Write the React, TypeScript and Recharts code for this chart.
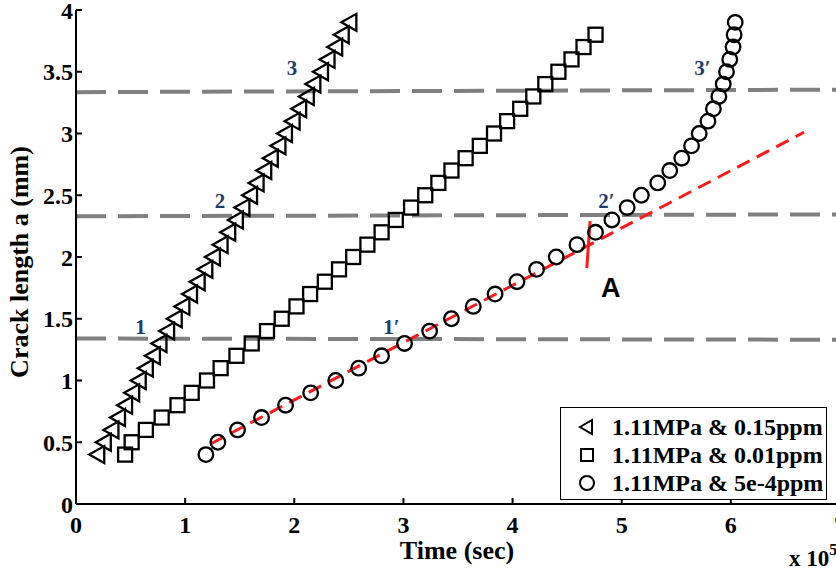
import React from 'react';
import { ComposedChart, Scatter, XAxis, YAxis, ReferenceLine } from 'recharts';

// ---- data (time in 1e5 s, crack length in mm) ----
const triTime = [0.19, 0.25, 0.32, 0.38, 0.445, 0.51, 0.57, 0.635, 0.7, 0.76, 0.83, 0.9, 0.97, 1.04, 1.11, 1.18, 1.25, 1.32, 1.39, 1.46, 1.52, 1.59, 1.65, 1.72, 1.78, 1.85, 1.91, 1.98, 2.04, 2.11, 2.17, 2.24, 2.3, 2.37, 2.43, 2.5];
const triCrack = [0.4, 0.5, 0.6, 0.7, 0.8, 0.9, 1.0, 1.1, 1.2, 1.3, 1.4, 1.5, 1.6, 1.7, 1.8, 1.9, 2.0, 2.1, 2.2, 2.3, 2.4, 2.5, 2.6, 2.7, 2.8, 2.9, 3.0, 3.1, 3.2, 3.3, 3.4, 3.5, 3.6, 3.7, 3.8, 3.9];

const sqTime = [0.45, 0.51, 0.64, 0.785, 0.93, 1.06, 1.2, 1.325, 1.47, 1.61, 1.75, 1.885, 2.02, 2.145, 2.28, 2.41, 2.54, 2.67, 2.8, 2.93, 3.07, 3.2, 3.32, 3.44, 3.57, 3.7, 3.83, 3.95, 4.07, 4.19, 4.3, 4.42, 4.54, 4.65, 4.76];
const sqCrack = [0.4, 0.5, 0.6, 0.7, 0.8, 0.9, 1.0, 1.1, 1.2, 1.3, 1.4, 1.5, 1.6, 1.7, 1.8, 1.9, 2.0, 2.1, 2.2, 2.3, 2.4, 2.5, 2.6, 2.7, 2.8, 2.9, 3.0, 3.1, 3.2, 3.3, 3.4, 3.5, 3.6, 3.7, 3.8];

const circTime = [1.19, 1.3, 1.48, 1.7, 1.92, 2.15, 2.38, 2.59, 2.8, 3.01, 3.24, 3.44, 3.64, 3.84, 4.04, 4.22, 4.4, 4.59, 4.76, 4.91, 5.05, 5.18, 5.33, 5.44, 5.55, 5.64, 5.71, 5.79, 5.84, 5.89, 5.93, 5.96, 5.99, 6.02, 6.03, 6.04];
const circCrack = [0.4, 0.5, 0.6, 0.7, 0.8, 0.9, 1.0, 1.1, 1.2, 1.3, 1.4, 1.5, 1.6, 1.7, 1.8, 1.9, 2.0, 2.1, 2.2, 2.3, 2.4, 2.5, 2.6, 2.7, 2.8, 2.9, 3.0, 3.1, 3.2, 3.3, 3.4, 3.5, 3.6, 3.7, 3.8, 3.9];

const legendLabels = ['1.11MPa & 0.15ppm', '1.11MPa & 0.01ppm', '1.11MPa & 5e-4ppm'];

const xTicks = [0, 1, 2, 3, 4, 5, 6, 7];
const yTicks = [0, 0.5, 1, 1.5, 2, 2.5, 3, 3.5, 4];

// threshold (gray dashed) lines: [left y, right y]
const levelLeft = [1.34, 2.33, 3.335];
const levelRight = [1.33, 2.345, 3.355];

// linear fit (red dashed) and kink marker A
const fitTime = [1.24, 6.67];
const fitCrack = [0.49, 3.01];
const kinkTime = [4.68, 4.71];
const kinkCrack = [1.91, 2.29];

// annotation labels
const annotText = ['1', '2', '3', '1\u2032', '2\u2032', '3\u2032'];
const annotTime = [0.59, 1.32, 1.98, 2.89, 4.86, 5.74];
const annotCrack = [1.43, 2.45, 3.53, 1.43, 2.45, 3.53];
const markText = ['A'];
const markTime = [4.9];
const markCrack = [1.75];

const toPts = (xs: number[], ys: number[]) => xs.map((x, i) => ({ x, y: ys[i] }));
const triData = toPts(triTime, triCrack);
const sqData = toPts(sqTime, sqCrack);
const circData = toPts(circTime, circCrack);
const annotData = annotText.map((t, i) => ({ x: annotTime[i], y: annotCrack[i], text: t }));
const markData = markText.map((t, i) => ({ x: markTime[i], y: markCrack[i], text: t }));

const serif = '"Liberation Serif", "Times New Roman", serif';
const sans = '"Liberation Sans", Arial, sans-serif';

const W = 860;
const H = 573;

const Tri = (p: any) => {
  const { cx, cy } = p;
  if (cx == null || cy == null) return <g />;
  return <polygon points={`${cx - 7.5},${cy} ${cx + 7.5},${cy - 8.5} ${cx + 7.5},${cy + 8.5}`} fill="none" stroke="#000" strokeWidth={2.3} strokeLinejoin="miter" />;
};
const Sq = (p: any) => {
  const { cx, cy } = p;
  if (cx == null || cy == null) return <g />;
  return <rect x={cx - 7} y={cy - 7} width={14} height={14} fill="none" stroke="#000" strokeWidth={2.3} />;
};
const Circ = (p: any) => {
  const { cx, cy } = p;
  if (cx == null || cy == null) return <g />;
  return <circle cx={cx} cy={cy} r={7.3} fill="none" stroke="#000" strokeWidth={2.3} />;
};
const Annot = (p: any) => {
  const { cx, cy, payload } = p;
  if (cx == null || cy == null) return <g />;
  return (
    <text x={cx} y={cy} textAnchor="middle" dominantBaseline="central" fill="#1f3a6e" fontSize={21} fontWeight="bold" fontFamily={serif}>
      {payload.text}
    </text>
  );
};
const Mark = (p: any) => {
  const { cx, cy, payload } = p;
  if (cx == null || cy == null) return <g />;
  return (
    <text x={cx} y={cy} textAnchor="middle" dominantBaseline="central" fill="#000" fontSize={27} fontWeight="bold" fontFamily={sans}>
      {payload.text}
    </text>
  );
};

const tickStyle = { fill: '#000', fontSize: 24, fontWeight: 'bold', fontFamily: serif };
const axisLineStyle = { stroke: '#000', strokeWidth: 2 };

const legendIcons = [
  <polygon key="t" points="3,10 15,3 15,17" fill="none" stroke="#000" strokeWidth={2} />,
  <rect key="s" x={4} y={4} width={12} height={12} fill="none" stroke="#000" strokeWidth={2} />,
  <circle key="c" cx={10} cy={10} r={7} fill="none" stroke="#000" strokeWidth={2} />,
];

export default function App() {
  return (
    <div style={{ position: 'absolute', left: 0, top: 0, width: 836, height: 573, overflow: 'hidden', background: '#fff' }}>
      <ComposedChart width={W} height={H} margin={{ top: 10, right: 20, bottom: 39, left: 16 }}>
        <XAxis
          xAxisId={0}
          type="number"
          dataKey="x"
          domain={[0, 7]}
          ticks={xTicks}
          interval={0}
          allowDataOverflow
          height={30}
          tickSize={-6}
          tickMargin={18}
          tick={tickStyle}
          axisLine={axisLineStyle}
          tickLine={axisLineStyle}
        />
        <XAxis
          xAxisId="top"
          orientation="top"
          type="number"
          dataKey="x"
          domain={[0, 7]}
          ticks={xTicks}
          interval={0}
          height={0}
          tickSize={-6}
          tick={false}
          axisLine={axisLineStyle}
          tickLine={axisLineStyle}
        />
        <YAxis
          yAxisId={0}
          type="number"
          dataKey="y"
          domain={[0, 4]}
          ticks={yTicks}
          interval={0}
          allowDataOverflow
          width={60}
          tickSize={-6}
          tickMargin={9}
          tick={tickStyle}
          axisLine={axisLineStyle}
          tickLine={axisLineStyle}
        />
        <YAxis
          yAxisId="right"
          orientation="right"
          type="number"
          dataKey="y"
          domain={[0, 4]}
          ticks={yTicks}
          interval={0}
          width={0}
          tickSize={-6}
          tick={false}
          axisLine={axisLineStyle}
          tickLine={axisLineStyle}
        />
        {levelLeft.map((yl, i) => (
          <ReferenceLine
            key={'lvl' + i}
            segment={[{ x: 0, y: yl }, { x: 7, y: levelRight[i] }]}
            stroke="#808080"
            strokeWidth={4}
            strokeDasharray="30 12"
          />
        ))}
        <Scatter data={triData} shape={Tri} isAnimationActive={false} />
        <Scatter data={sqData} shape={Sq} isAnimationActive={false} />
        <Scatter data={circData} shape={Circ} isAnimationActive={false} />
        <ReferenceLine
          segment={[{ x: fitTime[0], y: fitCrack[0] }, { x: fitTime[1], y: fitCrack[1] }]}
          stroke="#ff1a1a"
          strokeWidth={3}
          strokeDasharray="14 8"
        />
        <ReferenceLine
          segment={[{ x: kinkTime[0], y: kinkCrack[0] }, { x: kinkTime[1], y: kinkCrack[1] }]}
          stroke="#ff1a1a"
          strokeWidth={3}
        />
        <Scatter data={annotData} shape={Annot} isAnimationActive={false} />
        <Scatter data={markData} shape={Mark} isAnimationActive={false} />
      </ComposedChart>

      <svg width={836} height={573} style={{ position: 'absolute', left: 0, top: 0, pointerEvents: 'none' }}>
        <text x={28} y={262} transform="rotate(-90 28 262)" textAnchor="middle" fontSize={26} fontWeight="bold" fontFamily={serif} fill="#000">
          Crack length a (mm)
        </text>
        <text x={457} y={559} textAnchor="middle" fontSize={26} fontWeight="bold" fontFamily={serif} fill="#000">
          Time (sec)
        </text>
        <text x={789} y={566} fontSize={23} fontWeight="bold" fontFamily={serif} fill="#000">
          x 10<tspan fontSize={16} dy={-11}>5</tspan>
        </text>
      </svg>

      <div
        style={{
          position: 'absolute',
          left: 560,
          top: 407,
          width: 267,
          height: 93,
          boxSizing: 'border-box',
          border: '1.5px solid #000',
          background: '#fff',
          paddingTop: 5,
        }}
      >
        {legendLabels.map((lab, i) => (
          <div key={lab} style={{ position: 'relative', height: 28, display: 'flex', alignItems: 'center' }}>
            <svg width={20} height={20} style={{ position: 'absolute', left: 16, top: 4 }}>
              {legendIcons[i]}
            </svg>
            <span
              style={{
                position: 'absolute',
                left: 51,
                top: 0,
                lineHeight: '28px',
                fontSize: 24,
                fontWeight: 'bold',
                fontFamily: serif,
                color: '#000',
                whiteSpace: 'nowrap',
              }}
            >
              {lab}
            </span>
          </div>
        ))}
      </div>
    </div>
  );
}
